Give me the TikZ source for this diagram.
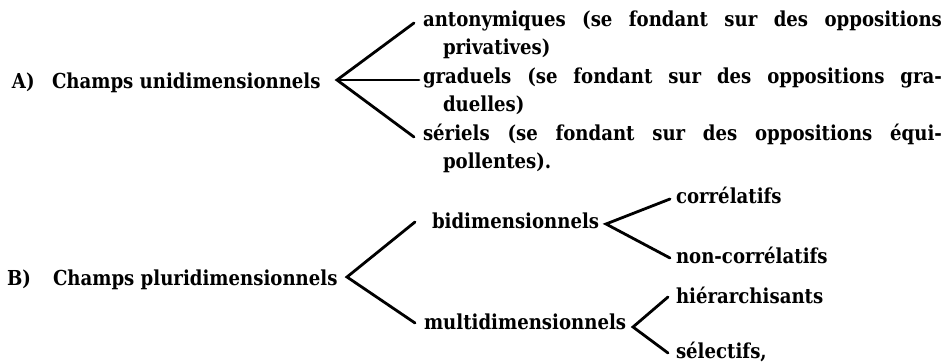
\documentclass[tikz,border=0pt]{standalone}
\usepackage{fontspec}
\setmainfont{DejaVu Serif}[FakeStretch=0.88]
\begin{document}
\begin{tikzpicture}[x=1pt,y=-1pt,
  txt/.style={anchor=base west,inner sep=0pt,outer sep=0pt,font=\fontsize{20.6}{24}\selectfont\bfseries},
  branch/.style={line width=2.8pt,line cap=round,line join=miter}]
\useasboundingbox (0,0) rectangle (948,363);
% ---- A ----
\node[txt] (Al) at (12,89) {A)};
\node[txt] (A) at (52,89) {Champs unidimensionnels};
\node[txt] (a1) at (423,27) {\makebox[519pt][s]{antonymiques (se fondant sur des oppositions}};
\node[txt] (a1b) at (443,55) {privatives)};
\node[txt] (a2) at (423,84) {\makebox[519pt][s]{graduels (se fondant sur des oppositions gra-}};
\node[txt] (a2b) at (443,112) {duelles)};
\node[txt] (a3) at (423,141) {\makebox[519pt][s]{sériels (se fondant sur des oppositions équi-}};
\node[txt] (a3b) at (443,169) {pollentes).};
\coordinate (Aap) at (337,80);
\coordinate (a1e) at (414,23);
\coordinate (a2e) at (419,80);
\coordinate (a3e) at (414,137);
\draw[branch] (a1e) -- (Aap) -- (a3e);
\draw[branch] (Aap) -- (a2e);
% ---- B ----
\node[txt] (Bl) at (7,286) {B)};
\node[txt] (B) at (53,286) {Champs pluridimensionnels};
\node[txt] (b1) at (432,229) {bidimensionnels};
\node[txt] (b2) at (424,330) {multidimensionnels};
\coordinate (Bap) at (347,277);
\coordinate (b1e) at (415,222);
\coordinate (b2e) at (415,323);
\draw[branch] (b1e) -- (Bap) -- (b2e);
\node[txt] (c1) at (676,204) {corrélatifs};
\node[txt] (c2) at (676,264) {non-corrélatifs};
\coordinate (b1ap) at (606,224);
\coordinate (c1e) at (670,199);
\coordinate (c2e) at (670,258);
\draw[branch] (c1e) -- (b1ap) -- (c2e);
\node[txt] (d1) at (676,304) {hiérarchisants};
\node[txt] (d2) at (676,359) {sélectifs,};
\coordinate (b2ap) at (633,327);
\coordinate (d1e) at (668,297);
\coordinate (d2e) at (668,353);
\draw[branch] (d1e) -- (b2ap) -- (d2e);
\end{tikzpicture}
\end{document}
